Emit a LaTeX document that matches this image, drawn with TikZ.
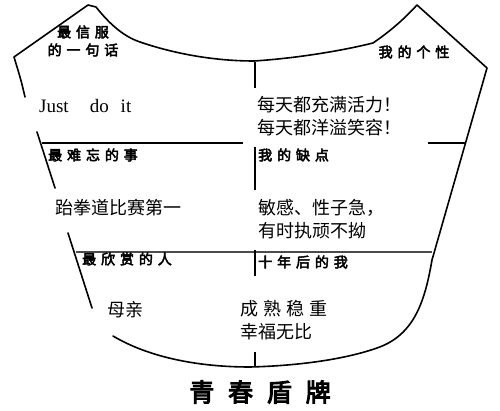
\documentclass[tikz,border=0pt]{standalone}
\usepackage{fontspec}
\setmainfont{Liberation Serif}
\newfontfamily\cjk{Noto Sans CJK SC}
\newfontfamily\cjkhead[FakeBold=3.5,LetterSpace=35]{Noto Sans CJK SC}
\newfontfamily\cjktitle[FakeBold=4,LetterSpace=55]{Noto Sans CJK SC}
\usetikzlibrary{positioning}

\tikzset{
  rim/.style={line width=1.6pt, line cap=round, line join=round},
  bar/.style={line width=2.6pt},
  head/.style={font=\cjkhead\fontsize{14}{18}\selectfont, inner sep=0pt, align=center},
  entry/.style={font=\cjk\fontsize{18}{23}\selectfont, inner sep=0pt, align=left, anchor=west},
}

\begin{document}
\begin{tikzpicture}[x=1pt,y=-1pt]
\useasboundingbox (0,0) rectangle (500,411);
% shield outline
\draw[rim] (25,97) .. controls (21,80) .. (14,57) -- (88,5) -- (96,7)
  .. controls (108,22) and (122,36) .. (140,42)
  .. controls (175,54) and (215,61) .. (254,61)
  .. controls (300,58) and (345,50) .. (373,43)
  .. controls (392,30) and (405,18) .. (417,5) -- (487,68) -- (432,260)
  .. controls (425,300) and (415,335) .. (377,348)
  .. controls (340,361) and (290,366) .. (250,367)
  .. controls (200,367) and (150,358) .. (113,336);
\draw[rim] (37,132) -- (55,188);
\draw[rim] (68,233) -- (92,308);
% dividers
\draw[bar] (42,143) -- (243,143);
\draw[bar] (428,143) -- (466,143);
\draw[line width=2pt, black!70] (76,252) -- (432,252);
\foreach \ya/\yb in {62/88,147/190,250/276,352/367}{
\draw[bar] (255,\ya) -- (255,\yb);
}
% headings
\node[head] (hdtrust) at (83,41) {最信服\\的一句话};
\node[head] (hdself) at (414,52) {我的个性};
\node[head, anchor=west] (hdmemory) at (48,155) {最难忘的事};
\node[head, anchor=west] (hdfault) at (258,155) {我的缺点};
\node[head, anchor=west] (hdadmire) at (82,259) {最欣赏的人};
\node[head, anchor=west] (hdfuture) at (258,262) {十年后的我};
% entries
\node[entry, font=\fontsize{19}{23}\selectfont] (just) at (39,106) {Just\hspace{21pt}do\hspace{12pt}it};
\node[entry] (energy) at (257,116) {每天都充满活力！\\每天都洋溢笑容！};
\node[entry] (taekwondo) at (55,208) {跆拳道比赛第一};
\node[entry] (faults) at (258,219) {敏感、性子急，\\有时执顽不拗};
\node[entry] (mother) at (107,310) {母亲};
\node[entry] (future) at (240,320) {成\hspace{5pt}熟\hspace{5pt}稳\hspace{5pt}重\\幸福无比};
% title
\node[font=\cjktitle\fontsize{25}{28}\selectfont, inner sep=0pt] (title) at (260,392) {青春盾牌};
\end{tikzpicture}
\end{document}
